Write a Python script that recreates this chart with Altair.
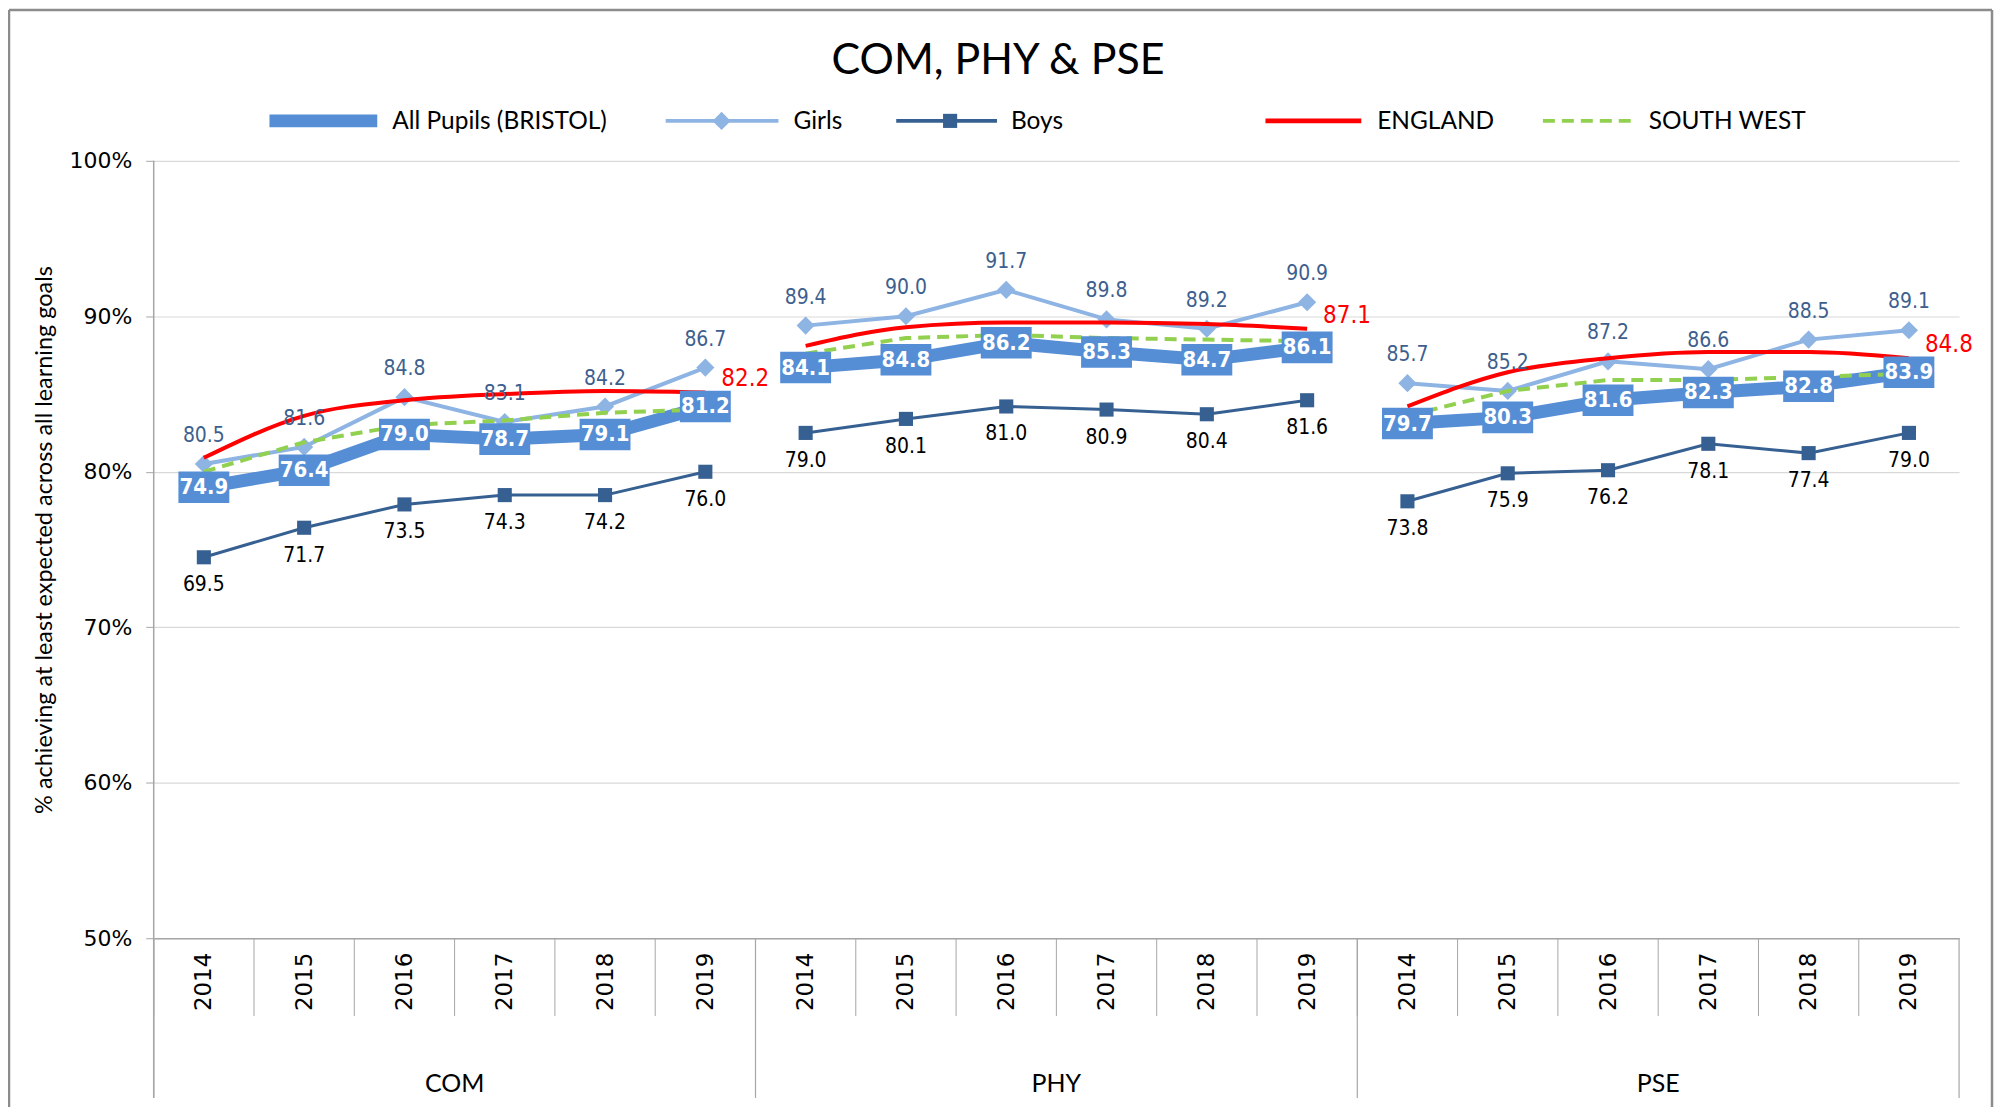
import altair as alt
import pandas as pd

groups = ["COM", "PHY", "PSE"]
years = ["2014", "2015", "2016", "2017", "2018", "2019"]

# Plotted positions (% as drawn) and printed data labels, 18 points: COM, PHY, PSE x 2014..2019
all_pos = [79.0, 80.1, 82.4, 82.1, 82.4, 84.2,
           86.7, 87.2, 88.3, 87.7, 87.2, 88.0,
           83.1, 83.5, 84.6, 85.1, 85.5, 86.4]
all_lab = ["74.9", "76.4", "79.0", "78.7", "79.1", "81.2",
           "84.1", "84.8", "86.2", "85.3", "84.7", "86.1",
           "79.7", "80.3", "81.6", "82.3", "82.8", "83.9"]
girls_pos = [80.5, 81.6, 84.8, 83.2, 84.2, 86.7,
             89.4, 90.0, 91.7, 89.8, 89.2, 90.9,
             85.7, 85.2, 87.1, 86.6, 88.5, 89.1]
girls_lab = ["80.5", "81.6", "84.8", "83.1", "84.2", "86.7",
             "89.4", "90.0", "91.7", "89.8", "89.2", "90.9",
             "85.7", "85.2", "87.2", "86.6", "88.5", "89.1"]
boys_pos = [74.5, 76.4, 77.9, 78.5, 78.5, 80.0,
            82.5, 83.4, 84.2, 84.0, 83.7, 84.6,
            78.1, 79.9, 80.1, 81.8, 81.2, 82.5]
boys_lab = ["69.5", "71.7", "73.5", "74.3", "74.2", "76.0",
            "79.0", "80.1", "81.0", "80.9", "80.4", "81.6",
            "73.8", "75.9", "76.2", "78.1", "77.4", "79.0"]
england_pos = [80.9, 83.6, 84.6, 85.0, 85.2, 85.1,
               88.1, 89.3, 89.6, 89.6, 89.5, 89.2,
               84.2, 86.4, 87.3, 87.7, 87.7, 87.3]
england_lab = ["82.2", "87.1", "84.8"]
sw_pos = [80.0, 81.9, 83.0, 83.3, 83.8, 84.0,
          87.6, 88.6, 88.8, 88.6, 88.5, 88.4,
          83.6, 85.2, 85.9, 85.9, 86.1, 86.3]

series_names = ["All Pupils (BRISTOL)", "Girls", "Boys", "ENGLAND", "SOUTH WEST"]

C_ALL = "#558ED5"
C_GIRLS = "#8EB4E3"
C_BOYS = "#376092"
C_ENG = "#FF0000"
C_SW = "#92D050"
C_GIRL_TXT = "#3E5F8E"
GRID = "#D9D9D9"
AXC = "#A6A6A6"

NARROW = "Liberation Sans Narrow, Arial Narrow, DejaVu Sans Condensed, sans-serif"
WIDE = "DejaVu Sans, Verdana, sans-serif"
CAL = "Lato, Carlito, Calibri, sans-serif"

W, H = 1809, 779
STEP = W / 18

keys, rows = [], []
i = 0
for g in groups:
    for y in years:
        k = g + "|" + y
        keys.append(k)
        rows.append(dict(group=g, year=y, key=k,
                         all_pos=all_pos[i], all_lab=all_lab[i],
                         girls_pos=girls_pos[i], girls_lab=girls_lab[i],
                         boys_pos=boys_pos[i], boys_lab=boys_lab[i],
                         eng_pos=england_pos[i], sw_pos=sw_pos[i]))
        i += 1
df = pd.DataFrame(rows)

eng_df = pd.DataFrame({"key": [g + "|2019" for g in groups],
                       "eng_pos": [england_pos[5], england_pos[11], england_pos[17]],
                       "label": england_lab})
grp_df = pd.DataFrame({"key": [g + "|2016" for g in groups], "label": groups})
first_df = pd.DataFrame({"key": [g + "|2014" for g in groups]})
key_df = pd.DataFrame({"key": keys})
one = pd.DataFrame({"a": [0]})

xaxis = alt.Axis(labelExpr="split(datum.value, '|')[1]", labelAngle=270, ticks=False,
                 domain=True, domainColor=AXC, domainWidth=1.5, labelFont=WIDE, labelFontSize=23,
                 labelColor="#000000", labelPadding=14, grid=False, title=None)
yaxis = alt.Axis(values=[50, 60, 70, 80, 90, 100], labelExpr="datum.value + '%'", grid=True,
                 gridColor=GRID, gridWidth=1.2, domain=False, ticks=True, tickSize=8, tickColor=AXC,
                 labelFont=WIDE, labelFontSize=22, labelColor="#000000", labelPadding=14, title=None)
X = alt.X("key:O", scale=alt.Scale(type="point", domain=keys, padding=0.5), axis=xaxis)
ysc = alt.Scale(domain=[50, 100], nice=False, zero=False)


def Y(f):
    return alt.Y(f + ":Q", scale=ysc, axis=yaxis)


base = alt.Chart(df)

all_line = base.mark_line(color=C_ALL, strokeWidth=13, strokeJoin="miter").encode(x=X, y=Y("all_pos"), detail="group:N")
girls_line = base.mark_line(color=C_GIRLS, strokeWidth=4).encode(x=X, y=Y("girls_pos"), detail="group:N")
girls_pts = base.mark_point(shape="diamond", size=330, filled=True, opacity=1, color=C_GIRLS).encode(x=X, y=Y("girls_pos"))
boys_line = base.mark_line(color=C_BOYS, strokeWidth=3).encode(x=X, y=Y("boys_pos"), detail="group:N")
boys_pts = base.mark_point(shape="square", size=200, filled=True, opacity=1, color=C_BOYS).encode(x=X, y=Y("boys_pos"))
sw_line = base.mark_line(color=C_SW, strokeWidth=4, strokeDash=[12, 7]).encode(x=X, y=Y("sw_pos"), detail="group:N")
eng_line = base.mark_line(color=C_ENG, strokeWidth=4, interpolate="monotone").encode(x=X, y=Y("eng_pos"), detail="group:N")

girls_txt = base.mark_text(font=NARROW, fontSize=21, color=C_GIRL_TXT, dy=-28, baseline="middle").encode(
    x=X, y=Y("girls_pos"), text="girls_lab:N")
boys_txt = base.mark_text(font=NARROW, fontSize=21, color="#000000", dy=28, baseline="middle").encode(
    x=X, y=Y("boys_pos"), text="boys_lab:N")
all_box = base.mark_point(shape="M-1,-0.62L1,-0.62L1,0.62L-1,0.62Z", size=2600, filled=True, opacity=1,
                          color=C_ALL, strokeWidth=0).encode(x=X, y=Y("all_pos"))
all_txt = base.mark_text(font=NARROW, fontSize=22, fontWeight="bold", color="#FFFFFF", baseline="middle").encode(
    x=X, y=Y("all_pos"), text="all_lab:N")
eng_txt = alt.Chart(eng_df).mark_text(font=NARROW, fontSize=24, color=C_ENG, align="left", dx=16, dy=-13,
                                      baseline="middle").encode(x=X, y=Y("eng_pos"), text="label:N")

# category separators below the plot
sep_short = alt.Chart(key_df).mark_rule(color=AXC, strokeWidth=1, xOffset=-STEP / 2).encode(
    x=X, y=alt.value(H), y2=alt.value(H + 78))
sep_long = alt.Chart(first_df).mark_rule(color=AXC, strokeWidth=1.2, xOffset=-STEP / 2).encode(
    x=X, y=alt.value(H), y2=alt.value(H + 160))
sep_end = alt.Chart(pd.DataFrame({"key": ["PSE|2019"]})).mark_rule(color=AXC, strokeWidth=1.2, xOffset=STEP / 2).encode(
    x=X, y=alt.value(H), y2=alt.value(H + 160))
left_axis = alt.Chart(one).mark_rule(color=AXC, strokeWidth=1.5).encode(
    x=alt.value(0), y=alt.value(0), y2=alt.value(H + 160))
grp_txt = alt.Chart(grp_df).mark_text(font=CAL, fontSize=25, color="#000000", xOffset=STEP / 2,
                                      baseline="middle").encode(x=X, y=alt.value(H + 146), text="label:N")

# frame
frame_top = alt.Chart(one).mark_rule(color="#8C8C8C", strokeWidth=2.5).encode(
    x=alt.value(-145), x2=alt.value(1842), y=alt.value(-151))
frame_left = alt.Chart(one).mark_rule(color="#8C8C8C", strokeWidth=2.5).encode(
    x=alt.value(-145), y=alt.value(-151), y2=alt.value(H + 175))
frame_right = alt.Chart(one).mark_rule(color="#8C8C8C", strokeWidth=2.5).encode(
    x=alt.value(1842), y=alt.value(-151), y2=alt.value(H + 175))

# title and y title
title_t = alt.Chart(one).mark_text(font=CAL, fontSize=43, color="#000000", baseline="middle").encode(
    x=alt.value(846), y=alt.value(-100), text=alt.value("COM, PHY & PSE"))
ytitle = alt.Chart(one).mark_text(font=CAL, fontSize=23.5, color="#000000", angle=270, baseline="middle").encode(
    x=alt.value(-109), y=alt.value(380), text=alt.value("% achieving at least expected across all learning goals"))

# legend
LY = -40
leg = []
leg.append(alt.Chart(one).mark_rule(color=C_ALL, strokeWidth=13).encode(x=alt.value(116), x2=alt.value(224), y=alt.value(LY)))
leg.append(alt.Chart(one).mark_rule(color=C_GIRLS, strokeWidth=4).encode(x=alt.value(513), x2=alt.value(626), y=alt.value(LY)))
leg.append(alt.Chart(one).mark_point(shape="diamond", size=330, filled=True, opacity=1, color=C_GIRLS).encode(x=alt.value(569), y=alt.value(LY)))
leg.append(alt.Chart(one).mark_rule(color=C_BOYS, strokeWidth=4).encode(x=alt.value(744), x2=alt.value(845), y=alt.value(LY)))
leg.append(alt.Chart(one).mark_point(shape="square", size=200, filled=True, opacity=1, color=C_BOYS).encode(x=alt.value(798), y=alt.value(LY)))
leg.append(alt.Chart(one).mark_rule(color=C_ENG, strokeWidth=5).encode(x=alt.value(1114), x2=alt.value(1210), y=alt.value(LY)))
leg.append(alt.Chart(one).mark_rule(color=C_SW, strokeWidth=4, strokeDash=[12, 7]).encode(x=alt.value(1392), x2=alt.value(1486), y=alt.value(LY)))
for xx, name in zip([239, 641, 859, 1226, 1498], series_names):
    leg.append(alt.Chart(one).mark_text(font=CAL, fontSize=24.5, color="#000000", align="left", baseline="middle").encode(
        x=alt.value(xx), y=alt.value(LY + 1), text=alt.value(name)))

chart = alt.layer(
    all_line, girls_line, girls_pts, boys_line, boys_pts, sw_line, eng_line,
    girls_txt, boys_txt, all_box, all_txt, eng_txt,
    sep_short, sep_long, sep_end, left_axis, grp_txt,
    frame_top, frame_left, frame_right, title_t, ytitle, *leg
).properties(
    width=W, height=H,
    autosize=alt.AutoSizeParams(type="none"),
    padding={"left": 146, "top": 152, "right": 36, "bottom": 168},
    background="#FFFFFF",
).configure_view(stroke=None)

chart.save("out.html", embed_options={"renderer": "svg", "actions": False})
